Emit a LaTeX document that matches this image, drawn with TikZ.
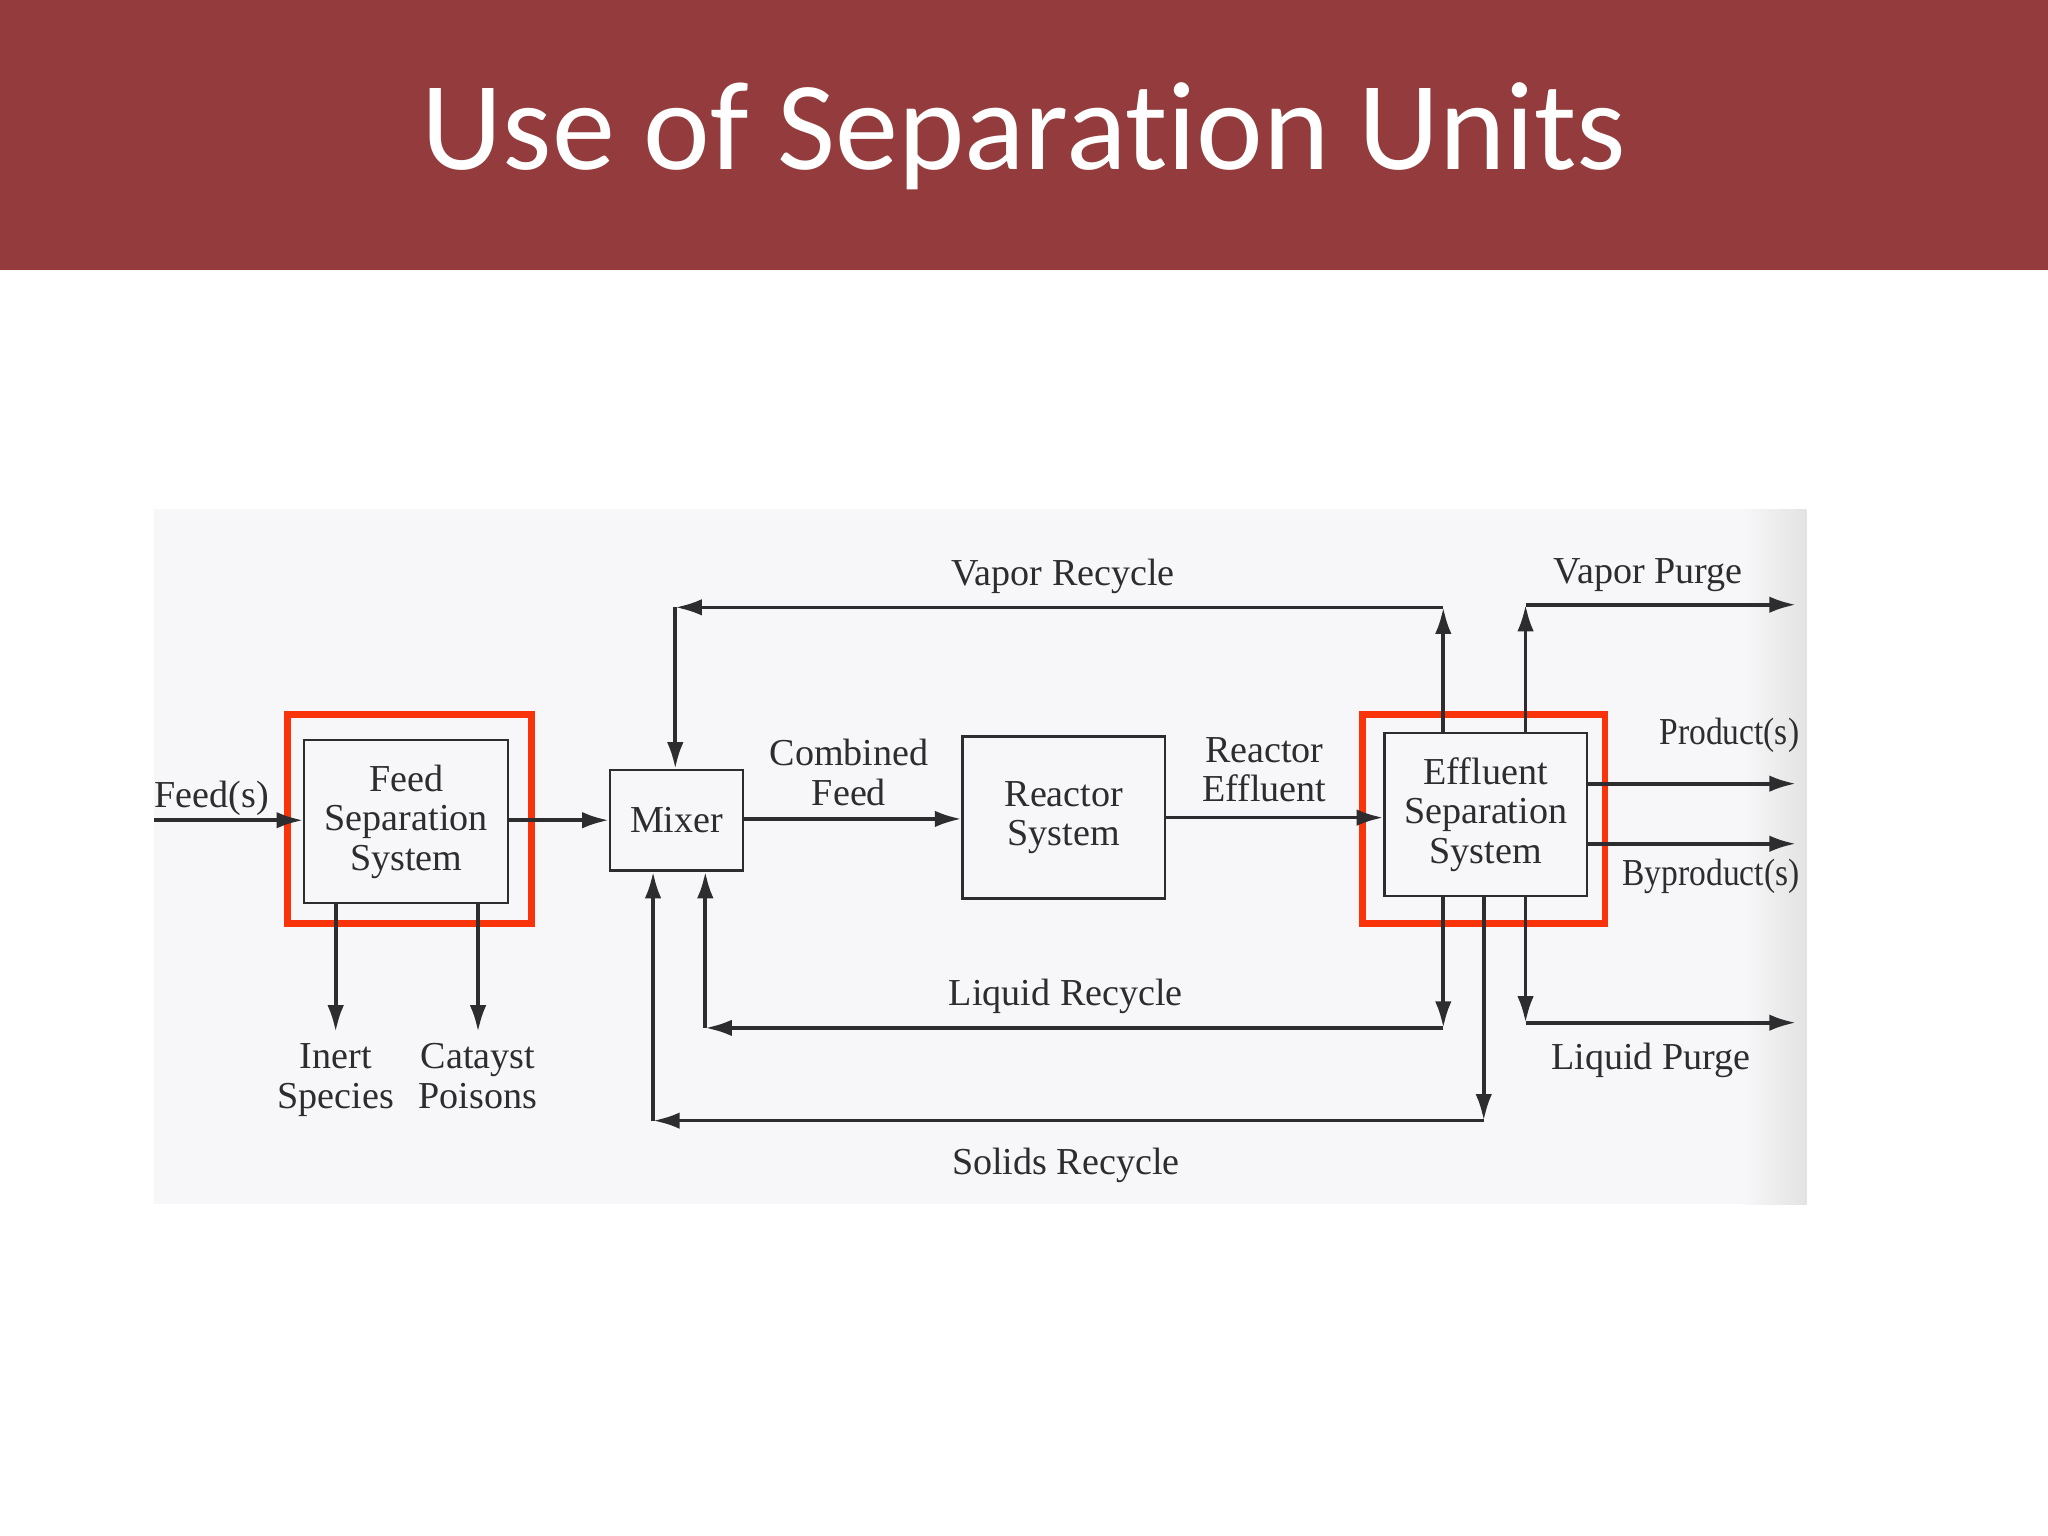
\documentclass[tikz,border=0pt]{standalone}
\usepackage{fontspec}
\setmainfont{Liberation Serif}
\newfontfamily\titlefont[Ligatures=NoCommon]{Carlito}
\usetikzlibrary{arrows.meta}
\definecolor{slidered}{RGB}{148,60,61}
\definecolor{hlred}{RGB}{250,52,10}
\definecolor{ink}{RGB}{45,45,48}
\definecolor{paper}{RGB}{247,247,249}
\tikzset{
  unit/.style={draw=ink, line width=0.5pt, fill=paper, inner sep=0pt, align=center, text=ink,
    font=\fontsize{8.3}{8.6}\selectfont},
  flow/.style={draw=ink, line width=0.8pt, -{Latex[length=5.8pt,width=3.6pt]}},
  lbl/.style={text=ink, align=center, inner sep=0pt, font=\fontsize{8.3}{8.6}\selectfont},
  narrow/.style={transform shape, xscale=0.88},
  hilite/.style={draw=hlred, line width=1.4pt},
}
\begin{document}
\begin{tikzpicture}
    \useasboundingbox (0,0) rectangle (15.68,-11.76);
    % title bar
    \fill[slidered] (0,0) rectangle (15.68,-2.07);
    \node[anchor=base, text=white, inner sep=0pt, font=\titlefont\fontsize{27.5}{30}\selectfont] (title) at (7.84,-1.30) {Use of Separation Units};
    % scanned page
    \fill[paper] (1.18,-3.90) rectangle (13.83,-9.22);
    \shade[left color=paper, right color=gray!22] (13.35,-3.90) rectangle (13.83,-9.22);

    % units
    \node[unit, minimum width=1.56cm, minimum height=1.25cm] (feedsep) at (3.11,-6.29) {Feed\\Separation\\System};
    \node[unit, minimum width=1.02cm, minimum height=0.77cm] (mixer) at (5.18,-6.28) {Mixer};
    \node[unit, minimum width=1.55cm, minimum height=1.24cm] (reactor) at (8.145,-6.26) {Reactor\\System};
    \node[unit, minimum width=1.55cm, minimum height=1.25cm] (effsep) at (11.375,-6.235) {Effluent\\Separation\\System};

    % red highlights
    \draw[hilite] (2.20,-5.47) rectangle (4.07,-7.07);
    \draw[hilite] (10.43,-5.47) rectangle (12.29,-7.07);

    % stream ends and corners
    \coordinate (feedin) at (1.18,-6.28);
    \coordinate (vr1) at (11.05,-4.65);
    \coordinate (vr2) at (5.17,-4.65);
    \coordinate (vp1) at (11.68,-4.63);
    \coordinate (vpout) at (13.75,-4.63);
    \coordinate (prodout) at (13.75,-6.00);
    \coordinate (byout) at (13.75,-6.46);
    \coordinate (lr1) at (11.05,-7.87);
    \coordinate (lr2) at (5.40,-7.87);
    \coordinate (sr1) at (11.36,-8.58);
    \coordinate (sr2) at (5.00,-8.58);
    \coordinate (lp1) at (11.68,-7.83);
    \coordinate (lpout) at (13.75,-7.83);
    \coordinate (inertout) at (2.57,-7.90);
    \coordinate (poisonout) at (3.66,-7.90);

    % main train
    \draw[flow] (feedin) -- (feedin -| feedsep.west);
    \draw[flow] (feedsep.east |- feedin) -- (feedin -| mixer.west);
    \draw[flow] (mixer.east |- 0,-6.27) -- (reactor.west |- 0,-6.27);
    \draw[flow] (reactor.east |- 0,-6.26) -- (effsep.west |- 0,-6.26);

    % feed separation outlets
    \draw[flow] (feedsep.south -| inertout) -- (inertout);
    \draw[flow] (feedsep.south -| poisonout) -- (poisonout);

    % vapor recycle and purge
    \draw[flow] (effsep.north -| vr1) -- (vr1);
    \draw[flow] (vr1) -- (vr2);
    \draw[flow] (vr2) -- (mixer.north -| vr2);
    \draw[flow] (effsep.north -| vp1) -- (vp1);
    \draw[flow] (vp1) -- (vpout);

    % products
    \draw[flow] (effsep.east |- prodout) -- (prodout);
    \draw[flow] (effsep.east |- byout) -- (byout);

    % liquid recycle and purge
    \draw[flow] (effsep.south -| lr1) -- (lr1);
    \draw[flow] (lr1) -- (lr2);
    \draw[flow] (lr2) -- (mixer.south -| lr2);
    \draw[flow] (effsep.south -| lp1) -- (lp1);
    \draw[flow] (lp1) -- (lpout);

    % solids recycle
    \draw[flow] (effsep.south -| sr1) -- (sr1);
    \draw[flow] (sr1) -- (sr2);
    \draw[flow] (sr2) -- (mixer.south -| sr2);

    % stream labels
    \node[lbl] (feedlbl) at (1.62,-6.11) {Feed(s)};
    \node[lbl] (comblbl) at (6.50,-5.915) {Combined\\Feed};
    \node[lbl] (efflbl) at (9.68,-5.895) {Reactor\\Effluent};
    \node[lbl] (vrlbl) at (8.14,-4.41) {Vapor Recycle};
    \node[lbl] (vplbl) at (12.62,-4.40) {Vapor Purge};
    \node[lbl, narrow] (prodlbl) at (13.24,-5.63) {Product(s)};
    \node[lbl, narrow] (bylbl) at (13.10,-6.71) {Byproduct(s)};
    \node[lbl] (lrlbl) at (8.16,-7.63) {Liquid Recycle};
    \node[lbl] (lplbl) at (12.64,-8.12) {Liquid Purge};
    \node[lbl] (srlbl) at (8.16,-8.92) {Solids Recycle};
    \node[lbl] (inertlbl) at (2.57,-8.27) {Inert\\Species};
    \node[lbl] (poisonlbl) at (3.66,-8.24) {Catayst\\Poisons};
\end{tikzpicture}
\end{document}
